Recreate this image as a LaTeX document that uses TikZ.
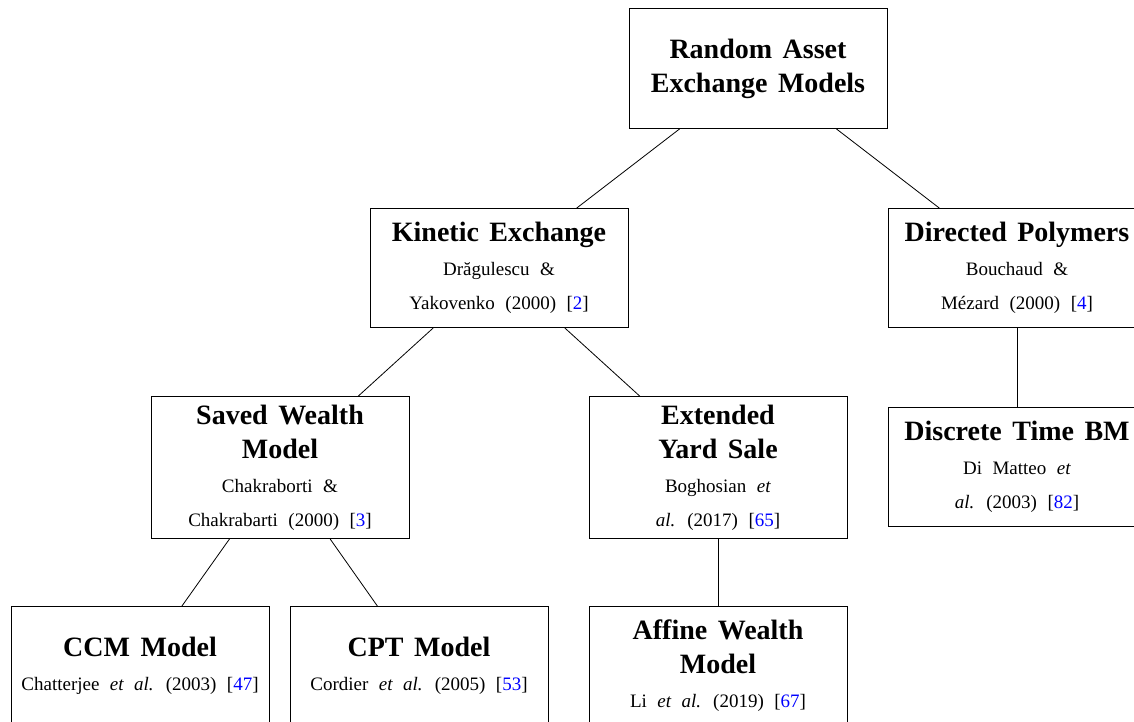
\documentclass[tikz,border=0pt]{standalone}
\usepackage{fontspec}
\setmainfont{Liberation Serif}
\newcommand{\ttl}[1]{{\fontsize{28}{34}\selectfont\bfseries #1}}
\newcommand{\rf}[1]{[\textcolor{blue}{#1}]}
\newcommand{\subfont}{\fontsize{19}{34}\selectfont\spaceskip=10.5pt plus 2pt minus 1pt\relax}
\tikzset{
  box/.style={draw, line width=0.8pt, minimum width=258pt, align=center, inner sep=0pt,
    font={\subfont}},
  edge/.style={draw, line width=0.8pt}
}
\begin{document}
\begin{tikzpicture}[x=1pt,y=-1pt]
\useasboundingbox (0,0) rectangle (1134,721);
\node[box, minimum height=120pt] (root) at (758,68.5) {\ttl{Random Asset}\\\ttl{Exchange Models}};
\node[box, minimum height=119pt] (kin) at (499,268) {\ttl{Kinetic Exchange}\\Drăgulescu \&\\Yakovenko (2000) \rf{2}};
\node[box, minimum height=119pt] (dir) at (1017,268) {\ttl{Directed Polymers}\\Bouchaud \&\\Mézard (2000) \rf{4}};
\node[box, minimum height=142pt] (saved) at (280,467.5) {\ttl{Saved Wealth}\\\ttl{Model}\\Chakraborti \&\\Chakrabarti (2000) \rf{3}};
\node[box, minimum height=142pt] (eys) at (718,467.5) {\ttl{Extended}\\\ttl{Yard Sale}\\Boghosian \textit{et}\\\textit{al.} (2017) \rf{65}};
\node[box, minimum height=119pt] (dtbm) at (1017,467) {\ttl{Discrete Time BM}\\Di Matteo \textit{et}\\\textit{al.} (2003) \rf{82}};
\node[box, minimum height=118pt] (ccm) at (140,665.5) {\ttl{CCM Model}\\Chatterjee \textit{et al.} (2003) \rf{47}};
\node[box, minimum height=118pt] (cpt) at (419,665.5) {\ttl{CPT Model}\\Cordier \textit{et al.} (2005) \rf{53}};
\node[box, minimum height=118pt] (awm) at (718,665.5) {\ttl{Affine Wealth}\\\ttl{Model}\\Li \textit{et al.} (2019) \rf{67}};
\draw[edge] (root) -- (kin);
\draw[edge] (root) -- (dir);
\draw[edge] (kin) -- (saved);
\draw[edge] (kin) -- (eys);
\draw[edge] (dir) -- (dtbm);
\draw[edge] (saved) -- (ccm);
\draw[edge] (saved) -- (cpt);
\draw[edge] (eys) -- (awm);
\end{tikzpicture}
\end{document}
